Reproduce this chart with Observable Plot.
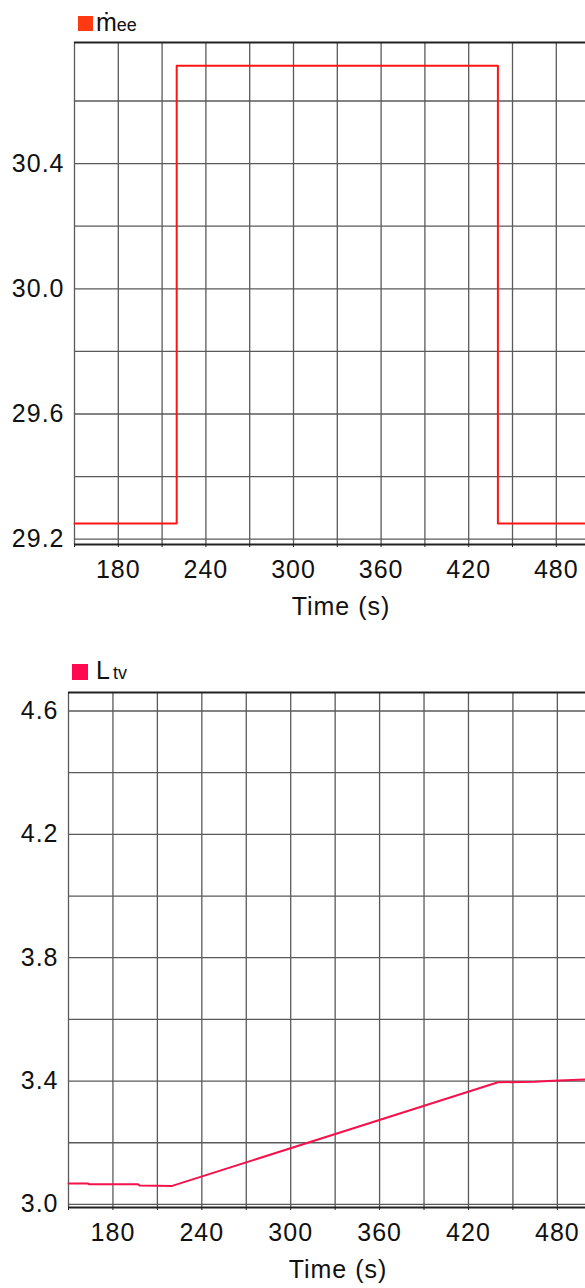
<!DOCTYPE html>
<html>
<head>
<meta charset="utf-8">
<script src="https://cdn.jsdelivr.net/npm/d3@7"></script>
<script src="https://cdn.jsdelivr.net/npm/@observablehq/plot@0.6"></script>
<style>
  body { margin: 0; background: #fff; font-family: "Liberation Sans", Arial, sans-serif; }
  #wrap { position: relative; width: 585px; height: 1288px; overflow: hidden; background: #fff; }
  .chart { position: absolute; left: 0; }
  .sw { position: absolute; }
  .lg { position: absolute; font-size: 25px; line-height: 25px; color: #111; white-space: nowrap; }
  .lg .sub { font-size: 18px; }
</style>
</head>
<body>
<div id="wrap">
  <div class="sw" style="left:78px;top:16px;width:15px;height:15px;background:#ff3a12;"></div>
  <div class="lg" style="left:96px;top:10px;">ṁ<span class="sub">ee</span></div>
  <div id="c1" class="chart" style="top:0px;"></div>
  <div class="sw" style="left:72px;top:664px;width:16px;height:16px;background:#ff0a50;"></div>
  <div class="lg" style="left:96px;top:658px;">L<span class="sub" style="margin-left:3px">tv</span></div>
  <div id="c2" class="chart" style="top:650px;"></div>
</div>
<script>
// ---- data ----
const time1 = [150, 220, 440, 500];
const mee = [29.25, 30.713, 29.25, 29.25];

const time2 = [150, 163, 164, 197, 198, 220, 440, 465, 477, 499];
const ltv = [3.068, 3.068, 3.065, 3.065, 3.061, 3.060, 3.396, 3.398, 3.401, 3.405];

const xGrid = [150, 180, 210, 240, 270, 300, 330, 360, 390, 420, 450, 480];
const xLabels = [180, 240, 300, 360, 420, 480];

const yGrid1 = [29.2, 29.4, 29.6, 29.8, 30.0, 30.2, 30.4, 30.6];
const yLabels1 = [29.2, 29.6, 30.0, 30.4];
const yDomain1 = [29.183, 30.787];

const yGrid2 = [3.0, 3.2, 3.4, 3.6, 3.8, 4.0, 4.2, 4.4, 4.6];
const yLabels2 = [3.0, 3.4, 3.8, 4.2, 4.6];
const yDomain2 = [2.990, 4.660];

const xLabel = ["Time (s)"];

// ---- helpers ----
const font = '"Liberation Sans", Arial, sans-serif';
const baseStyle = { fontFamily: font, fontSize: "25px", color: "#111", background: "transparent", letterSpacing: "1px", overflow: "visible" };
const gridColor = "#5a5a5a";

function chart({t, v, xDomain, yDomain, yGrid, yLabels, color, height, marginTop, marginBottom, marginLeft, curve}) {
  const data = t.map((d, i) => ({t: d, v: v[i]}));
  return Plot.plot({
    width: 585,
    height,
    marginTop, marginBottom, marginLeft, marginRight: 0,
    x: {domain: xDomain},
    y: {domain: yDomain},
    style: baseStyle,
    marks: [
      Plot.ruleX(xGrid, {stroke: gridColor, strokeWidth: 1.3}),
      Plot.ruleY(yGrid, {stroke: gridColor, strokeWidth: 1.3}),
      Plot.ruleY(yDomain, {stroke: "#222", strokeWidth: 2}),
      Plot.axisX({ticks: xGrid, tickFormat: d => xLabels.includes(d) ? String(d) : "", tickSize: 3, tickPadding: 13, stroke: "#222", label: null}),
      Plot.axisY({ticks: yLabels, tickFormat: d => d.toFixed(1), tickSize: 0, tickPadding: 10, label: null}),
      Plot.line(data, {x: "t", y: "v", curve, stroke: color, strokeWidth: 2}),
      Plot.text(xLabel, {frameAnchor: "bottom", dy: 70, dx: 11, fontSize: 25, fill: "#111"})
    ]
  });
}

document.getElementById("c1").append(chart({
  t: time1, v: mee, xDomain: [150, 500], yDomain: yDomain1, yGrid: yGrid1, yLabels: yLabels1,
  color: "#ff1414", height: 650, marginTop: 42, marginBottom: 106, marginLeft: 74, curve: "step-after"
}));
document.getElementById("c2").append(chart({
  t: time2, v: ltv, xDomain: [150, 499], yDomain: yDomain2, yGrid: yGrid2, yLabels: yLabels2,
  color: "#f5124c", height: 638, marginTop: 42, marginBottom: 81, marginLeft: 68, curve: "linear"
}));
</script>
</body>
</html>
